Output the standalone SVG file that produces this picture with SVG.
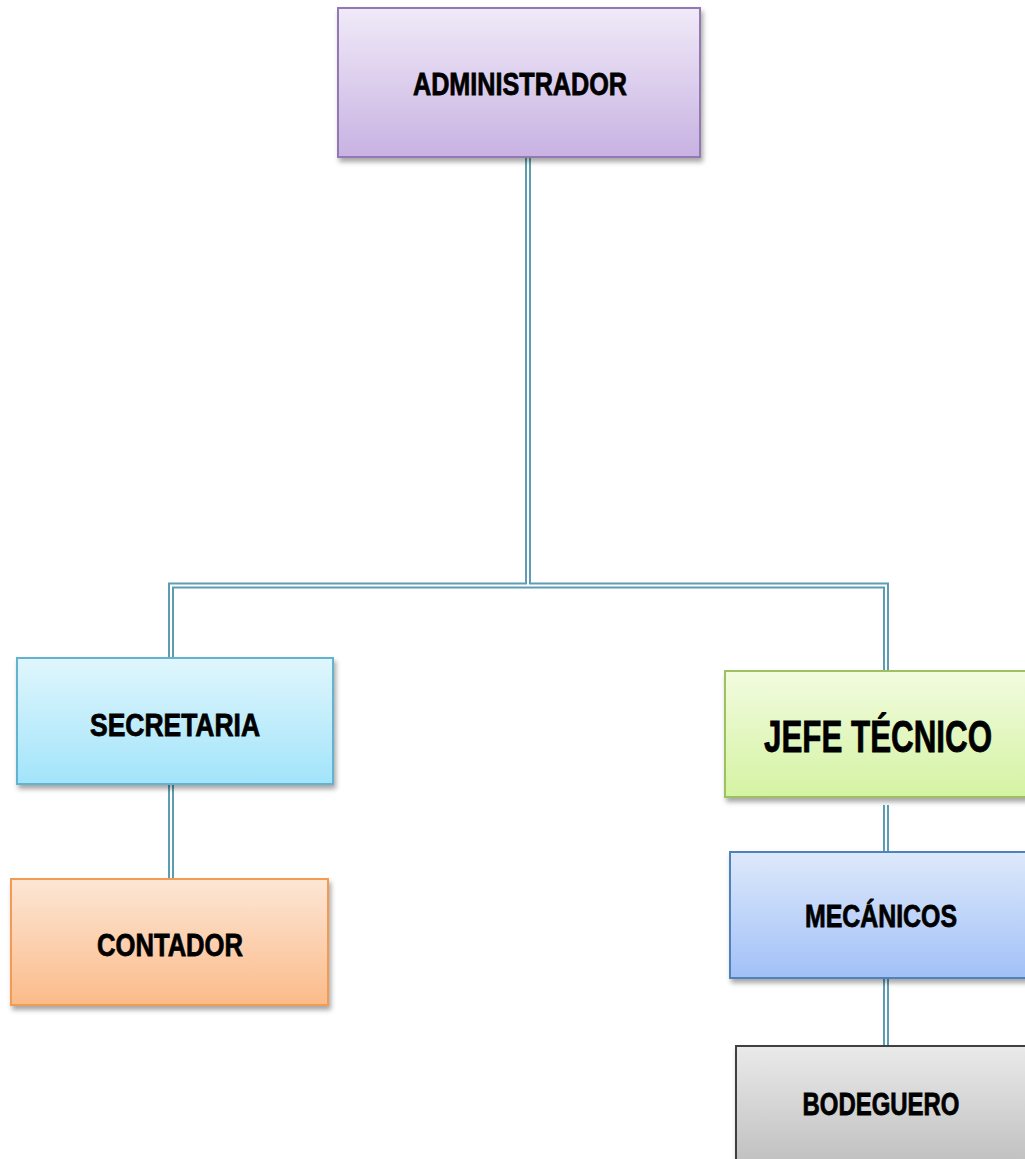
<svg xmlns="http://www.w3.org/2000/svg" width="1025" height="1159" viewBox="0 0 1025 1159">
  <defs>
    <linearGradient id="gAdmin" x1="0" y1="0" x2="0" y2="1"><stop offset="0" stop-color="#f0eaf8"/><stop offset="1" stop-color="#c8b2e2"/></linearGradient>
    <linearGradient id="gSec" x1="0" y1="0" x2="0" y2="1"><stop offset="0" stop-color="#e0f6fd"/><stop offset="1" stop-color="#a2e4fa"/></linearGradient>
    <linearGradient id="gCont" x1="0" y1="0" x2="0" y2="1"><stop offset="0" stop-color="#fde6d5"/><stop offset="1" stop-color="#fbbb8a"/></linearGradient>
    <linearGradient id="gJefe" x1="0" y1="0" x2="0" y2="1"><stop offset="0" stop-color="#f2fbdf"/><stop offset="1" stop-color="#d4f3a3"/></linearGradient>
    <linearGradient id="gMec" x1="0" y1="0" x2="0" y2="1"><stop offset="0" stop-color="#dde9fb"/><stop offset="1" stop-color="#a2c0f7"/></linearGradient>
    <linearGradient id="gBod" x1="0" y1="0" x2="0" y2="1"><stop offset="0" stop-color="#eaeaea"/><stop offset="1" stop-color="#bcbcbc"/></linearGradient>
    <filter id="shadow" x="-5%" y="-5%" width="115%" height="125%">
      <feDropShadow dx="2" dy="4" stdDeviation="2.5" flood-color="#000" flood-opacity="0.35"/>
    </filter>
  </defs>
  <style>
    .box { stroke-width: 2; filter: url(#shadow); }
    .lbl { font-family: "Liberation Sans", Arial, sans-serif; font-weight: bold; font-size: 32px; fill: #000; stroke: #000; stroke-width: 0.8; text-anchor: middle; }
    .wire-out { fill: none; stroke: #5d9db3; stroke-width: 6; }
    .wire-in { fill: none; stroke: #ffffff; stroke-width: 2; }
  </style>
  <rect width="1025" height="1159" fill="#ffffff"/>

  <!-- double-line connectors -->
  <g id="connectors">
    <path class="wire-out" d="M528,157 V585.5 M171,657 V585.5 H886 V671 M171,784 V879 M886,805 V852 M886,978 V1046"/>
    <path class="wire-in" d="M528,157 V585.5 M171,657 V585.5 H886 V671 M171,784 V879 M886,805 V852 M886,978 V1046"/>
  </g>

  <g id="administrador">
    <rect class="box" x="338" y="8" width="362" height="149" fill="url(#gAdmin)" stroke="#9378b4"/>
    <text class="lbl" x="520" y="95" textLength="214" lengthAdjust="spacingAndGlyphs">ADMINISTRADOR</text>
  </g>

  <g id="secretaria">
    <rect class="box" x="17" y="658" width="316" height="126" fill="url(#gSec)" stroke="#62b3cf"/>
    <text class="lbl" x="175" y="736" textLength="170" lengthAdjust="spacingAndGlyphs">SECRETARIA</text>
  </g>

  <g id="contador">
    <rect class="box" x="11" y="879" width="317" height="126" fill="url(#gCont)" stroke="#f39a52"/>
    <text class="lbl" x="170" y="956" textLength="146" lengthAdjust="spacingAndGlyphs">CONTADOR</text>
  </g>

  <g id="jefe-tecnico">
    <rect class="box" x="725" y="671" width="310" height="126" fill="url(#gJefe)" stroke="#9fc05e"/>
    <text class="lbl" x="878" y="752" style="font-size:44px" textLength="228" lengthAdjust="spacingAndGlyphs">JEFE TÉCNICO</text>
  </g>

  <g id="mecanicos">
    <rect class="box" x="730" y="852" width="305" height="126" fill="url(#gMec)" stroke="#4f81bd"/>
    <text class="lbl" x="881" y="927" textLength="152" lengthAdjust="spacingAndGlyphs">MECÁNICOS</text>
  </g>

  <g id="bodeguero">
    <rect class="box" x="736" y="1046" width="299" height="130" fill="url(#gBod)" stroke="#404040"/>
    <text class="lbl" x="881" y="1115" textLength="157" lengthAdjust="spacingAndGlyphs">BODEGUERO</text>
  </g>
</svg>
